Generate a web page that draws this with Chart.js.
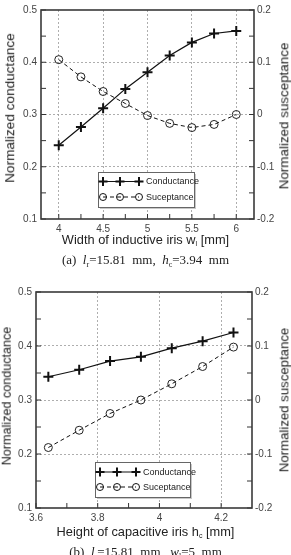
<!DOCTYPE html>
<html>
<head>
<meta charset="utf-8">
<script src="https://cdn.jsdelivr.net/npm/chart.js@4.4.1/dist/chart.umd.min.js"></script>
<style>
  body { margin: 0; background: #fff; }
  #wrap { position: relative; width: 291px; height: 555px; overflow: hidden; background: #fff; }
  canvas { position: absolute; left: 0; }
  .xt { position: absolute; left: 0; width: 291px; text-align: center; font: 12.8px "Liberation Sans", Arial, sans-serif; color: #222; white-space: nowrap; }
  .xt sub { font-size: 7px; vertical-align: baseline; position: relative; top: 2px; }
  .yt { position: absolute; font-family: "Liberation Sans", Arial, sans-serif; color: #222; white-space: nowrap; line-height: 1; transform: translate(-50%, -50%) rotate(-90deg); }
  .cap { position: absolute; left: 0; width: 291px; text-align: center; font: 13px "Liberation Serif", "Times New Roman", serif; color: #222; white-space: pre; }
  .cap sub { font-size: 8px; vertical-align: baseline; position: relative; top: 3px; }
</style>
</head>
<body>
<div id="wrap">
  <canvas id="chartA" width="291" height="236" style="top:0px"></canvas>
  <div class="yt" style="left:10px;top:108px;font-size:13.6px">Normalized conductance</div>
  <div class="yt" style="left:284px;top:116px;font-size:13.4px">Normalized susceptance</div>
  <div class="xt" style="top:232px">Width of inductive iris w<sub>l</sub> [mm]</div>
  <div class="cap" style="top:252px">(a)  <i>l</i><sub>r</sub>=15.81  mm,  <i>h</i><sub>c</sub>=3.94  mm</div>

  <canvas id="chartB" width="291" height="245" style="top:280px"></canvas>
  <div class="yt" style="left:7px;top:396px;font-size:12.6px">Normalized conductance</div>
  <div class="yt" style="left:284px;top:400px;font-size:13.2px">Normalized susceptance</div>
  <div class="xt" style="top:524px">Height of capacitive iris h<sub>c</sub> [mm]</div>
  <div class="cap" style="top:544px">(b)  <i>l</i><sub>r</sub>=15.81  mm,  <i>w</i><sub>l</sub>=5  mm</div>
</div>

<script>
// ---- data (a): sweep of inductive iris width ----
var widthX = [4, 4.25, 4.5, 4.75, 5, 5.25, 5.5, 5.75, 6]
var conductanceA = [0.241, 0.276, 0.312, 0.349, 0.381, 0.413, 0.438, 0.455, 0.460]
var susceptanceA = [0.105, 0.072, 0.044, 0.021, -0.002, -0.017, -0.025, -0.019, 0.000]

// ---- data (b): sweep of capacitive iris height ----
var heightX = [3.64, 3.74, 3.84, 3.94, 4.04, 4.14, 4.24]
var conductanceB = [0.343, 0.356, 0.372, 0.380, 0.396, 0.409, 0.425]
var susceptanceB = [-0.088, -0.056, -0.025, 0.000, 0.030, 0.062, 0.098]

// ---- ticks ----
var xTicksA = [4, 4.25, 4.5, 4.75, 5, 5.25, 5.5, 5.75, 6]
var xLabelsA = [4, 4.5, 5, 5.5, 6]
var xTicksB = [3.6, 3.7, 3.8, 3.9, 4.0, 4.1, 4.2]
var xLabelsB = [3.6, 3.8, 4.0, 4.2]
var gTicks = [0.1, 0.15, 0.2, 0.25, 0.3, 0.35, 0.4, 0.45, 0.5]
var gLabels = [0.1, 0.2, 0.3, 0.4, 0.5]
var bTicks = [-0.2, -0.15, -0.1, -0.05, 0, 0.05, 0.1, 0.15, 0.2]
var bLabels = [-0.2, -0.1, 0, 0.1, 0.2]

var seriesNames = ['Conductance', 'Suceptance']

function near(a, b) { return Math.abs(a - b) < 1e-6 }
function inList(v, list) { return list.some(function (t) { return near(t, v) }) }
function fmt(v) { return near(v, 0) ? '0' : String(Math.round(v * 100) / 100) }

var tickFont = { family: '"Liberation Sans", Arial, sans-serif', size: 10 }

// frame, inward minor ticks and the boxed legend
var framePlugin = {
  id: 'frame',
  afterDraw: function (chart, args, opts) {
    var c = chart.ctx, a = chart.chartArea
    c.save()
    c.strokeStyle = '#333'
    c.lineWidth = 1
    ;['x', 'y', 'y1'].forEach(function (id) {
      var s = chart.scales[id]
      s.ticks.forEach(function (t) {
        var p = s.getPixelForValue(t.value)
        c.beginPath()
        if (id === 'x') { c.moveTo(p, a.bottom); c.lineTo(p, a.bottom - 5) }
        else if (id === 'y') { c.moveTo(a.left, p); c.lineTo(a.left + 5, p) }
        else { c.moveTo(a.right, p); c.lineTo(a.right - 5, p) }
        c.stroke()
      })
    })
    c.lineWidth = 1.6
    c.strokeStyle = '#3a3a3a'
    c.strokeRect(a.left, a.top, a.right - a.left, a.bottom - a.top)

    // legend
    var L = opts.legend
    c.fillStyle = '#c8c8c8'
    c.fillRect(L.x + 2, L.y + 2, L.w, L.h)
    c.fillStyle = '#fff'
    c.fillRect(L.x, L.y, L.w, L.h)
    c.lineWidth = 1
    c.strokeStyle = '#666'
    c.strokeRect(L.x + 0.5, L.y + 0.5, L.w, L.h)
    chart.data.datasets.forEach(function (ds, i) {
      var ly = L.y + L.rows[i]
      c.strokeStyle = '#111'
      c.lineWidth = ds.borderWidth
      c.setLineDash(ds.borderDash || [])
      c.beginPath(); c.moveTo(L.x + 5, ly); c.lineTo(L.x + 41, ly); c.stroke()
      c.setLineDash([])
      ;[5, 22, 41].forEach(function (dx) { drawMarker(c, ds, L.x + dx, ly) })
      c.fillStyle = '#222'
      c.font = '9px "Liberation Sans", Arial, sans-serif'
      c.textBaseline = 'middle'
      c.fillText(ds.label, L.x + 48, ly + 0.5)
    })
    c.restore()
  }
}

function drawMarker(c, ds, x, y) {
  c.strokeStyle = '#111'
  c.lineWidth = ds.pointBorderWidth
  var r = ds.pointRadius - 0.5
  c.beginPath()
  if (ds.pointStyle === 'cross') {
    c.moveTo(x - r, y); c.lineTo(x + r, y)
    c.moveTo(x, y - r); c.lineTo(x, y + r)
  } else {
    c.arc(x, y, r, 0, Math.PI * 2)
  }
  c.stroke()
}

function makeChart(id, xs, cond, susc, xTicks, xLabels, xMin, xMax, box) {
  var ctx = document.getElementById(id).getContext('2d')
  return new Chart(ctx, {
    type: 'line',
    data: {
      datasets: [{
        label: seriesNames[0],
        data: xs.map(function (x, i) { return { x: x, y: cond[i] } }),
        yAxisID: 'y',
        borderColor: '#111',
        borderWidth: 1.2,
        pointStyle: 'cross',
        pointRadius: 5,
        pointBorderWidth: 2,
        pointBorderColor: '#111',
        pointBackgroundColor: '#111',
        fill: false,
        tension: 0
      }, {
        label: seriesNames[1],
        data: xs.map(function (x, i) { return { x: x, y: susc[i] } }),
        yAxisID: 'y1',
        borderColor: '#111',
        borderWidth: 1,
        borderDash: [4, 3],
        pointStyle: 'circle',
        pointRadius: 4,
        pointBorderWidth: 1,
        pointBorderColor: '#222',
        pointBackgroundColor: 'rgba(0,0,0,0)',
        fill: false,
        tension: 0
      }]
    },
    options: {
      responsive: false,
      animation: false,
      devicePixelRatio: 1,
      layout: { padding: { top: box.top, left: 0, right: 0, bottom: 0 } },
      plugins: {
        legend: { display: false },
        tooltip: { enabled: false },
        frame: { legend: box.legend }
      },
      scales: {
        x: {
          type: 'linear',
          min: xMin, max: xMax,
          afterBuildTicks: function (s) { s.ticks = xTicks.map(function (v) { return { value: v } }) },
          afterFit: function (s) { s.height = box.xh },
          border: { display: false, dash: [2, 2] },
          grid: {
            drawTicks: false,
            color: function (c) { return c.tick && inList(c.tick.value, xLabels) && !near(c.tick.value, xMin) ? '#9a9a9a' : 'rgba(0,0,0,0)' },
            lineWidth: 0.8
          },
          ticks: {
            autoSkip: false, maxRotation: 0, padding: 4, color: '#444', font: tickFont,
            callback: function (v) { return inList(v, xLabels) ? fmt(v) : '' }
          }
        },
        y: {
          position: 'left',
          min: 0.1, max: 0.5,
          afterBuildTicks: function (s) { s.ticks = gTicks.map(function (v) { return { value: v } }) },
          afterFit: function (s) { s.width = box.left },
          border: { display: false, dash: [2, 2] },
          grid: {
            drawTicks: false,
            color: function (c) { return c.tick && inList(c.tick.value, gLabels) && c.tick.value > 0.11 && c.tick.value < 0.49 ? '#9a9a9a' : 'rgba(0,0,0,0)' },
            lineWidth: 0.8
          },
          ticks: {
            autoSkip: false, padding: 4, color: '#444', font: tickFont,
            callback: function (v) { return inList(v, gLabels) ? fmt(v) : '' }
          }
        },
        y1: {
          position: 'right',
          min: -0.2, max: 0.2,
          afterBuildTicks: function (s) { s.ticks = bTicks.map(function (v) { return { value: v } }) },
          afterFit: function (s) { s.width = box.right },
          border: { display: false },
          grid: { drawTicks: false, drawOnChartArea: false },
          ticks: {
            autoSkip: false, padding: 3, color: '#444', font: tickFont,
            callback: function (v) { return inList(v, bLabels) ? fmt(v) : '' }
          }
        }
      }
    },
    plugins: [framePlugin]
  })
}

makeChart('chartA', widthX, conductanceA, susceptanceA, xTicksA, xLabelsA, 3.8, 6.2,
  { top: 7, left: 41, right: 37, xh: 17, legend: { x: 98, y: 172, w: 96, h: 35, rows: [9.5, 25] } })

makeChart('chartB', heightX, conductanceB, susceptanceB, xTicksB, xLabelsB, 3.6, 4.3,
  { top: 12, left: 36, right: 39, xh: 17, legend: { x: 95, y: 182, w: 95, h: 35, rows: [10, 25] } })
</script>
</body>
</html>
